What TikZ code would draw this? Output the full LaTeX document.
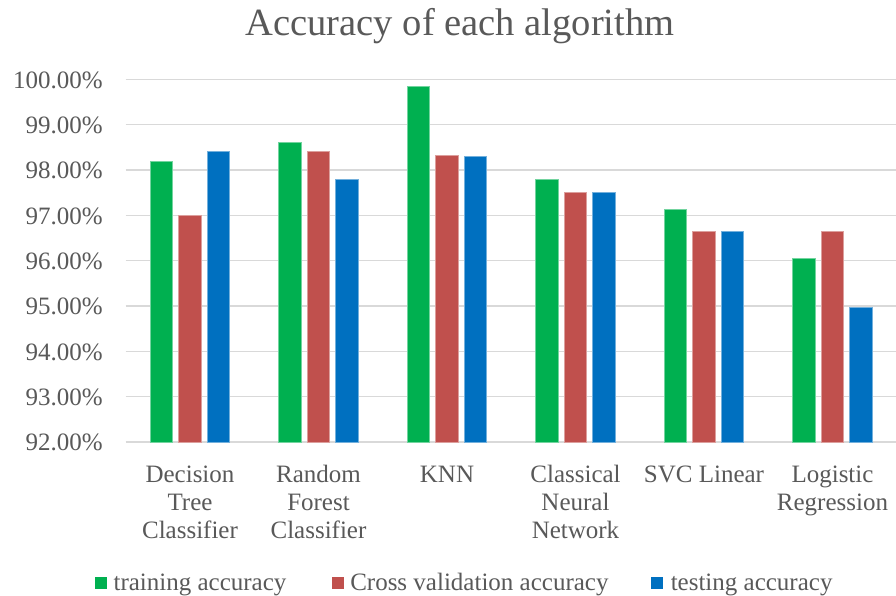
\documentclass[tikz,border=0pt]{standalone}
\usepackage{fontspec}
\setmainfont{Liberation Serif}
\definecolor{txt}{HTML}{595959}
\definecolor{gridc}{HTML}{D9D9D9}
\definecolor{gbar}{HTML}{00B050}
\definecolor{rbar}{HTML}{C0504D}
\definecolor{bbar}{HTML}{0070C0}
\begin{document}
\begin{tikzpicture}[x=0.75pt,y=-0.75pt,
  lbl/.style={text=txt,font=\fontsize{18.75}{21}\selectfont,inner sep=0pt},
  ttl/.style={text=txt,font=\fontsize{28.9}{32}\selectfont,inner sep=0pt},
  gline/.style={draw=gridc,line width=1.1pt},
  gb/.style={fill=gbar,draw=gbar!55!white,line width=0.5pt},
  rb/.style={fill=rbar,draw=rbar!55!white,line width=0.5pt},
  bb/.style={fill=bbar,draw=bbar!55!white,line width=0.5pt}]
\useasboundingbox (0,0) rectangle (896,596);
\fill[white] (0,0) rectangle (896,596);
% title
\node[ttl,anchor=base] (title) at (460,35) {Accuracy of each algorithm};
% grid and y labels
\foreach \v in {92,...,100}{
  \pgfmathsetmacro\yy{79.3+(100-\v)*45.33}
  \draw[gline] (125.5,\yy) -- (896,\yy);
  \node[lbl,anchor=base east] (y\v) at (103,\yy+9) {\v.00\%};
}
% bars
\foreach \g/\r/\b [count=\i from 0] in {98.2/97.0/98.41, 98.61/98.41/97.8, 99.85/98.32/98.3, 97.8/97.5/97.5, 97.13/96.65/96.65, 96.06/96.65/94.98}{
  \pgfmathsetmacro\cx{190+128.5*\i}
  \pgfmathsetmacro\ya{79.3+(100-\g)*45.33}
  \pgfmathsetmacro\yb{79.3+(100-\r)*45.33}
  \pgfmathsetmacro\yc{79.3+(100-\b)*45.33}
  \path[gb] (\cx-28.5-11.25,441.9) rectangle (\cx-28.5+11.25,\ya);
  \path[rb] (\cx-11.25,441.9) rectangle (\cx+11.25,\yb);
  \path[bb] (\cx+28.5-11.25,441.9) rectangle (\cx+28.5+11.25,\yc);
}
% category labels
\node[lbl,anchor=base] (c1a) at (190,482) {Decision};
\node[lbl,anchor=base] (c1b) at (190,510) {Tree};
\node[lbl,anchor=base] (c1c) at (190,538.5) {Classifier};
\node[lbl,anchor=base] (c2a) at (318.5,482) {Random};
\node[lbl,anchor=base] (c2b) at (318.5,510) {Forest};
\node[lbl,anchor=base] (c2c) at (318.5,538.5) {Classifier};
\node[lbl,anchor=base] (c3a) at (447,482) {KNN};
\node[lbl,anchor=base] (c4a) at (575.5,482) {Classical};
\node[lbl,anchor=base] (c4b) at (575.5,510) {Neural};
\node[lbl,anchor=base] (c4c) at (575.5,538.5) {Network};
\node[lbl,anchor=base] (c5a) at (704,482) {SVC Linear};
\node[lbl,anchor=base] (c6a) at (832.5,482) {Logistic};
\node[lbl,anchor=base] (c6b) at (832.5,510) {Regression};
% legend
\fill[gbar] (94.5,576.5) rectangle (106.5,588.5);
\node[lbl,anchor=base west] (l1) at (113.3,590.5) {training accuracy};
\fill[rbar] (331.5,576.5) rectangle (343.5,588.5);
\node[lbl,anchor=base west] (l2) at (350,590.5) {Cross validation accuracy};
\fill[bbar] (651,576.5) rectangle (663,588.5);
\node[lbl,anchor=base west] (l3) at (670.5,590.5) {testing accuracy};
\end{tikzpicture}
\end{document}
